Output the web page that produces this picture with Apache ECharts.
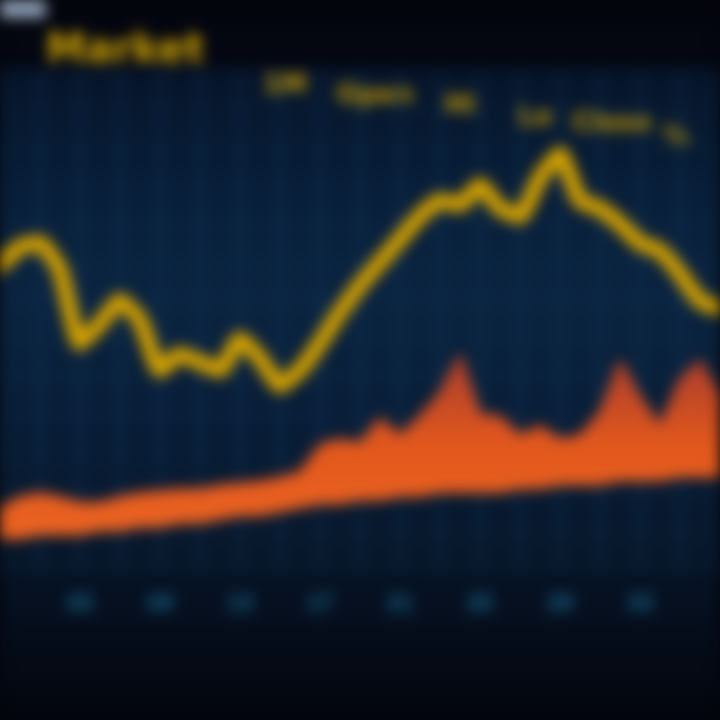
<!DOCTYPE html>
<html>
<head>
<meta charset="utf-8">
<script src="https://cdn.jsdelivr.net/npm/echarts@6/dist/echarts.min.js"></script>
<style>
html,body{margin:0;padding:0;background:#04050d;overflow:hidden;}
#chart{width:720px;height:720px;filter:blur(7px) saturate(1.1);}
</style>
</head>
<body>
<div id="chart"></div>
<script>
// ---- data (unitless index) ----
const categories = ['01','02','03','04','05','06','07','08','09','10','11','12','13','14','15','16','17','18','19','20','21','22','23','24','25','26','27','28','29','30','31','32','33','34','35','36','37'];
const priceLine = [79,84,85,78,59,64,70,65,52,56,54,52,60,55,48,52,59,67,74,80,86,92,96,95,100,94,92,102,108,96,94,90,85,83,77,70,68];
const volumeBase = [8,8,9,9,9,10,10,11,11,12,12,13,14,14,15,16,17,17,18,18,19,19,20,20,20,20,21,21,22,22,22,23,23,23,24,24,24];
const volumeBand = [8,11,11,10,8.5,7.5,9,9,9.5,9,9,9,8.5,9,9,9.5,15.5,17,15,21.5,16,21,26,36,20.5,20,14,16.5,12,13,19,31.5,22,14.5,25.5,30.5,21];
const titleText = 'Market';
const headerItems = ['1M','Open','Hi','Lo','Close','%'];

const chart = echarts.init(document.getElementById('chart'), null, {renderer:'canvas'});
const headerPos = [[285,86],[375,96],[460,106],[535,118],[612,124],[676,138]];
const graphics = [
  {type:'rect', left:0, top:0, shape:{width:46,height:18}, style:{fill:'#8e9cb0'}},
  {type:'text', left:46, top:32, style:{text:titleText, fill:'#c9a113', font:'bold 40px "DejaVu Sans"'}}
];
headerItems.forEach((t,i)=>{
  graphics.push({type:'text', x:headerPos[i][0], y:headerPos[i][1], style:{text:t, fill:'#bf9812', font:'bold 26px "DejaVu Sans"', align:'center', verticalAlign:'middle'}});
});

chart.setOption({
  backgroundColor: {type:'linear',x:0,y:0,x2:0,y2:1,colorStops:[
    {offset:0,color:'#03040b'},{offset:0.12,color:'#040814'},{offset:0.3,color:'#091b31'},
    {offset:0.6,color:'#0a1d34'},{offset:0.8,color:'#071222'},{offset:1,color:'#03050c'}]},
  animation:false,
  graphic: graphics,
  grid:{left:0,right:0,top:70,bottom:150,show:true,borderWidth:0,
    backgroundColor:{type:'linear',x:0,y:0,x2:0,y2:1,colorStops:[
      {offset:0,color:'rgba(8,26,48,0.7)'},{offset:0.45,color:'rgba(12,36,62,0.9)'},{offset:1,color:'rgba(8,22,40,0.9)'}]}},
  xAxis:{type:'category',data:categories,boundaryGap:false,
    axisLine:{show:false},axisTick:{show:false},
    axisLabel:{color:'#1e6485',fontSize:24,fontWeight:'bold',margin:22,
      interval:(i)=> i>0 && i%4===0 && i<36},
    splitLine:{show:true,interval:1,lineStyle:{color:'rgba(30,80,120,0.3)',width:4}}},
  yAxis:{type:'value',min:0,max:130,interval:10,
    axisLine:{show:false},axisTick:{show:false},axisLabel:{show:false},
    splitLine:{show:true,lineStyle:{color:'rgba(40,90,140,0.15)',width:2}}},
  series:[
    {name:'base',type:'line',stack:'vol',data:volumeBase,symbol:'none',lineStyle:{width:0,opacity:0},areaStyle:{opacity:0},z:2},
    {name:'Volume',type:'line',stack:'vol',data:volumeBand,symbol:'none',
      lineStyle:{width:2,color:'#c8502a'},
      areaStyle:{opacity:1,color:{type:'linear',x:0,y:0,x2:0,y2:1,colorStops:[
        {offset:0,color:'#a03e30'},{offset:0.5,color:'#d85a24'},{offset:1,color:'#e0652a'}]}},z:3},
    {name:'Price',type:'line',data:priceLine,symbol:'none',smooth:0.15,
      lineStyle:{width:16,color:'#cfa10f',cap:'round',join:'round'},z:4}
  ]
});
</script>
</body>
</html>
